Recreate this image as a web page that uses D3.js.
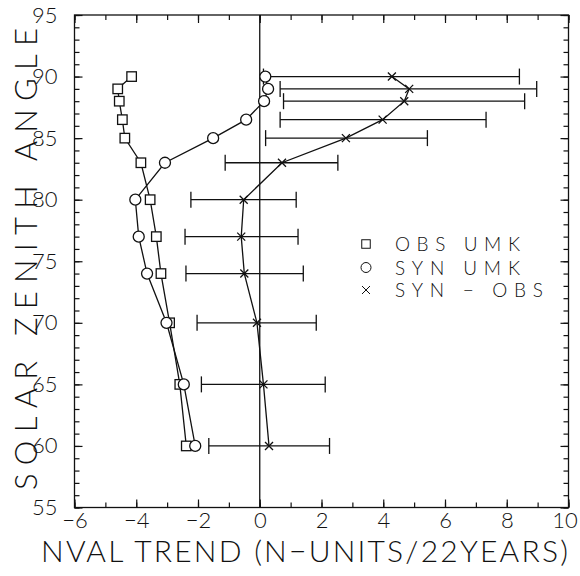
<!DOCTYPE html>
<html>
<head>
<meta charset="utf-8">
<script src="https://cdn.jsdelivr.net/npm/d3@7"></script>
<style>
  body { margin: 0; background: #fff; }
  svg text { font-family: Lato, "Open Sans", "DejaVu Sans", sans-serif; font-weight: 300; fill: #111; }
</style>
</head>
<body>
<div id="chart"></div>
<script>
// solar zenith angle of each row
const angles = [90, 89, 88, 86.5, 85, 83, 80, 77, 74, 70, 65, 60];
// trends, N-units / 22 years
const obsUmk = [-4.15, -4.6, -4.55, -4.45, -4.37, -3.85, -3.55, -3.35, -3.2, -2.92, -2.59, -2.38];
const synUmk = [0.18, 0.27, 0.14, -0.44, -1.51, -3.07, -4.03, -3.92, -3.65, -3.02, -2.46, -2.09];
const synMinusObs = [4.28, 4.84, 4.68, 3.98, 2.79, 0.72, -0.52, -0.6, -0.5, -0.09, 0.12, 0.3];
const errLow = [0.12, 0.66, 0.77, 0.66, 0.19, -1.12, -2.23, -2.42, -2.39, -2.03, -1.89, -1.65];
const errHigh = [8.41, 8.97, 8.58, 7.33, 5.43, 2.53, 1.18, 1.24, 1.41, 1.83, 2.12, 2.26];

const xTicks = [-6, -4, -2, 0, 2, 4, 6, 8, 10];
const yTicks = [55, 60, 65, 70, 75, 80, 85, 90, 95];
const legendLabels = ["OBS  UMK", "SYN  UMK", "SYN  \u2212  OBS"];

const W = 580, H = 576;
const box = { left: 74.5, right: 568.5, top: 15, bottom: 507.5 };

const svg = d3.select("#chart").append("svg")
  .attr("width", W).attr("height", H);

const x = d3.scaleLinear().domain([-6, 10]).range([box.left, box.right]);
const y = d3.scaleLinear().domain([55, 95]).range([box.bottom, box.top]);

const fmt = d => d < 0 ? "\u2212" + Math.abs(d) : "" + d;

// frame
svg.append("rect")
  .attr("x", box.left).attr("y", box.top)
  .attr("width", box.right - box.left).attr("height", box.bottom - box.top)
  .attr("fill", "none").attr("stroke", "#111").attr("stroke-width", 1.3);

// inward ticks on all four sides, minor every unit, major labelled
function ticks(axisFn, pos, values, size, labelled) {
  const g = svg.append("g")
    .attr("transform", pos)
    .call(axisFn.tickValues(values).tickSize(-size).tickPadding(6)
      .tickFormat(labelled ? fmt : ""));
  g.select(".domain").remove();
  g.selectAll("line").attr("stroke", "#111").attr("stroke-width", 1.2);
  g.selectAll("text").style("font-size", "22px").attr("fill", "#111");
  return g;
}
const xMinor = x.ticks(16), yMinor = y.ticks(40);
ticks(d3.axisBottom(x), `translate(0,${box.bottom})`, xMinor, 5, false);
ticks(d3.axisTop(x), `translate(0,${box.top})`, xMinor, 5, false);
ticks(d3.axisLeft(y), `translate(${box.left},0)`, yMinor, 5, false);
ticks(d3.axisRight(y), `translate(${box.right},0)`, yMinor, 5, false);
const bx = ticks(d3.axisBottom(x), `translate(0,${box.bottom})`, xTicks, 8, true);
ticks(d3.axisTop(x), `translate(0,${box.top})`, xTicks, 8, false);
const ly = ticks(d3.axisLeft(y), `translate(${box.left},0)`, yTicks, 8, true);
ticks(d3.axisRight(y), `translate(${box.right},0)`, yTicks, 8, false);
bx.selectAll("text").attr("y", 5).attr("dx", d => d === 10 ? -4 : 0);
ly.selectAll("text").attr("x", -17);

// zero line
svg.append("line")
  .attr("x1", x(0)).attr("x2", x(0))
  .attr("y1", box.top).attr("y2", box.bottom)
  .attr("stroke", "#111").attr("stroke-width", 1.3);

// axis titles
svg.append("text")
  .attr("x", 41).attr("y", 562)
  .attr("textLength", 527).attr("lengthAdjust", "spacing")
  .style("font-size", "30px")
  .text("NVAL TREND (N\u2212UNITS/22YEARS)");
svg.append("text")
  .attr("transform", "translate(37,490) rotate(-90)")
  .attr("textLength", 462).attr("lengthAdjust", "spacing")
  .style("font-size", "31px")
  .text("SOLAR ZENITH ANGLE");

const rows = angles.map((a, i) => ({
  a, obs: obsUmk[i], syn: synUmk[i], diff: synMinusObs[i], lo: errLow[i], hi: errHigh[i]
}));

const line = key => d3.line().x(d => x(d[key])).y(d => y(d.a));
const plot = svg.append("g").attr("stroke", "#111").attr("fill", "none").attr("stroke-width", 1.3);

// error bars
const eb = plot.selectAll(".eb").data(rows).join("g").attr("class", "eb");
eb.append("line")
  .attr("x1", d => x(d.lo)).attr("x2", d => x(d.hi))
  .attr("y1", d => y(d.a)).attr("y2", d => y(d.a));
eb.append("line")
  .attr("x1", d => x(d.lo)).attr("x2", d => x(d.lo))
  .attr("y1", d => y(d.a) - 8).attr("y2", d => y(d.a) + 8);
eb.append("line")
  .attr("x1", d => x(d.hi)).attr("x2", d => x(d.hi))
  .attr("y1", d => y(d.a) - 8).attr("y2", d => y(d.a) + 8);

// connecting lines
plot.append("path").attr("d", line("obs")(rows));
plot.append("path").attr("d", line("syn")(rows));
plot.append("path").attr("d", line("diff")(rows));

// markers
function square(g, cx, cy, s) {
  g.append("rect").attr("x", cx - s / 2).attr("y", cy - s / 2)
    .attr("width", s).attr("height", s).attr("fill", "#fff");
}
function circle(g, cx, cy, r) {
  g.append("circle").attr("cx", cx).attr("cy", cy).attr("r", r).attr("fill", "#fff");
}
function cross(g, cx, cy, s) {
  g.append("path").attr("d",
    `M${cx - s},${cy - s}L${cx + s},${cy + s}M${cx - s},${cy + s}L${cx + s},${cy - s}`);
}
rows.forEach(d => {
  square(plot, x(d.obs), y(d.a), 9.5);
  circle(plot, x(d.syn), y(d.a), 5.5);
  cross(plot, x(d.diff), y(d.a), 4);
});

// legend
const legY = [244, 267.5, 290];
const legLen = [125, 125, 148];
const leg = svg.append("g").attr("stroke", "#111").attr("fill", "none").attr("stroke-width", 1);
square(leg, 366, legY[0], 8.5);
circle(leg, 366, legY[1], 5);
cross(leg, 366, legY[2], 4);
legendLabels.forEach((t, i) => {
  svg.append("text")
    .attr("x", 395).attr("y", legY[i] + 7)
    .attr("textLength", legLen[i]).attr("lengthAdjust", "spacing")
    .style("font-size", "19px")
    .text(t);
});
</script>
</body>
</html>
